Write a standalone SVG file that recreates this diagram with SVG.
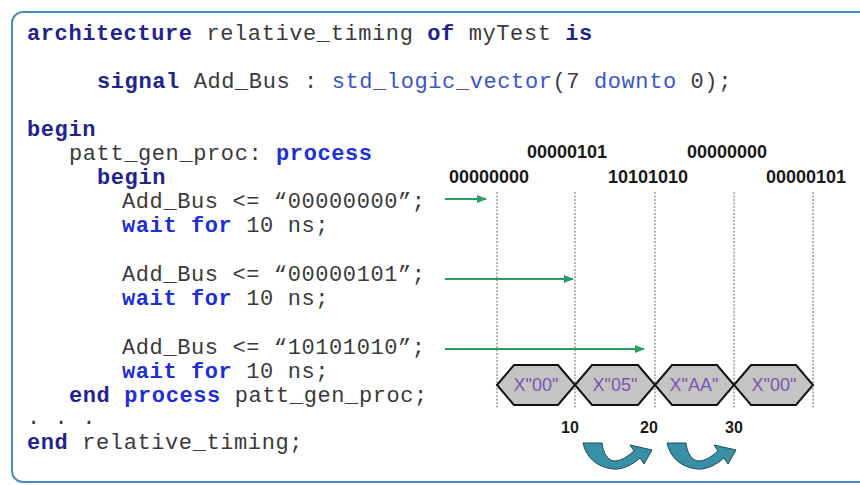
<svg xmlns="http://www.w3.org/2000/svg" width="860" height="485" viewBox="0 0 860 485">
<defs>
<style>
.code{font-family:"Liberation Mono","Courier New",monospace;font-size:22px;letter-spacing:0.6px;fill:#3a3a3a;white-space:pre}
.kn{font-weight:bold;fill:#23238e}
.kb{font-weight:bold;fill:#1f2fd6}
.ty{fill:#3b55c8}
.lbl{font-family:"Liberation Sans",Arial,sans-serif;font-size:18px;font-weight:bold;fill:#1a1a1a;text-anchor:middle}
.num{font-family:"Liberation Sans",Arial,sans-serif;font-size:16px;font-weight:bold;fill:#1a1a1a;text-anchor:middle}
.hex{fill:#c4c4c4;stroke:#111;stroke-width:2;stroke-linejoin:miter}
.hext{font-family:"Liberation Sans",Arial,sans-serif;font-size:18px;fill:#7a55b0;text-anchor:middle}
.grid{stroke:#9a9a9a;stroke-width:1.5;stroke-dasharray:2 1.5}
.ga{stroke:#2a9e62;stroke-width:2;fill:none;marker-end:url(#ah)}
.ua{fill:#3790a6;stroke:#1e4c58;stroke-width:1}
</style>
<marker id="ah" markerWidth="10" markerHeight="8" refX="9" refY="4" orient="auto" markerUnits="userSpaceOnUse">
<path d="M0,0 L10,4 L0,8 Z" fill="#2a9e62"/>
</marker>
</defs>
<rect x="0" y="0" width="860" height="485" fill="#ffffff"/>
<rect id="frame" x="12" y="12" width="870" height="470" rx="11" ry="11" fill="none" stroke="#4a8cc7" stroke-width="2"/>

<g id="code">
<text class="code" x="27" y="40"><tspan class="kn">architecture</tspan> relative_timing <tspan class="kn">of</tspan> myTest <tspan class="kn">is</tspan></text>
<text class="code" x="97" y="88"><tspan class="kn">signal</tspan> Add_Bus : <tspan class="ty">std_logic_vector</tspan>(7 <tspan class="ty">downto</tspan> 0);</text>
<text class="code" x="27" y="136"><tspan class="kn">begin</tspan></text>
<text class="code" x="69" y="160">patt_gen_proc: <tspan class="kb">process</tspan></text>
<text class="code" x="97" y="184"><tspan class="kn">begin</tspan></text>
<text class="code" x="122" y="208">Add_Bus &lt;= “00000000”;</text>
<text class="code" x="122" y="232"><tspan class="kb">wait for</tspan> 10 ns;</text>
<text class="code" x="122" y="281">Add_Bus &lt;= “00000101”;</text>
<text class="code" x="122" y="305"><tspan class="kb">wait for</tspan> 10 ns;</text>
<text class="code" x="122" y="354">Add_Bus &lt;= “10101010”;</text>
<text class="code" x="122" y="378"><tspan class="kb">wait for</tspan> 10 ns;</text>
<text class="code" x="69" y="402"><tspan class="kn">end</tspan> <tspan class="kb">process</tspan> patt_gen_proc;</text>
<text class="code" x="27" y="424">. . .</text>
<text class="code" x="27" y="449"><tspan class="kn">end</tspan> relative_timing;</text>
</g>

<g id="grid">
<line class="grid" x1="497" y1="192" x2="497" y2="408"/>
<line class="grid" x1="575" y1="192" x2="575" y2="408"/>
<line class="grid" x1="655" y1="192" x2="655" y2="408"/>
<line class="grid" x1="734" y1="192" x2="734" y2="408"/>
<line class="grid" x1="813" y1="192" x2="813" y2="408"/>
</g>

<g id="values">
<text class="lbl" x="567" y="158">00000101</text>
<text class="lbl" x="727" y="158">00000000</text>
<text class="lbl" x="489" y="183">00000000</text>
<text class="lbl" x="648" y="183">10101010</text>
<text class="lbl" x="806" y="183">00000101</text>
</g>

<g id="hex1"><path class="hex" d="M497,385 L514,365 L558,365 L575,385 L558,405 L514,405 Z"/><text class="hext" x="536" y="391">X"00"</text></g>
<g id="hex2"><path class="hex" d="M575,385 L592,365 L638,365 L655,385 L638,405 L592,405 Z"/><text class="hext" x="615" y="391">X"05"</text></g>
<g id="hex3"><path class="hex" d="M655,385 L672,365 L717,365 L734,385 L717,405 L672,405 Z"/><text class="hext" x="694" y="391">X"AA"</text></g>
<g id="hex4"><path class="hex" d="M734,385 L751,365 L796,365 L813,385 L796,405 L751,405 Z"/><text class="hext" x="774" y="391">X"00"</text></g>

<g id="ticks">
<text class="num" x="570" y="433">10</text>
<text class="num" x="649" y="433">20</text>
<text class="num" x="734" y="433">30</text>
</g>

<g id="connectors">
<line class="ga" x1="445" y1="199" x2="486" y2="199"/>
<line class="ga" x1="445" y1="279" x2="573" y2="279"/>
<line class="ga" x1="445" y1="349" x2="644" y2="349"/>
</g>

<g id="uturn1"><path class="ua" d="M583,443 L602,443 C603,452 607,460 614,461 C622,461 628,456 634,451 L630,445 L652,450 L644,464 L640,458 C632,465 622,470 613,469 C596,467 586,457 583,443 Z"/></g>
<g id="uturn2"><path class="ua" transform="translate(84,0)" d="M583,443 L602,443 C603,452 607,460 614,461 C622,461 628,456 634,451 L630,445 L652,450 L644,464 L640,458 C632,465 622,470 613,469 C596,467 586,457 583,443 Z"/></g>
</svg>
